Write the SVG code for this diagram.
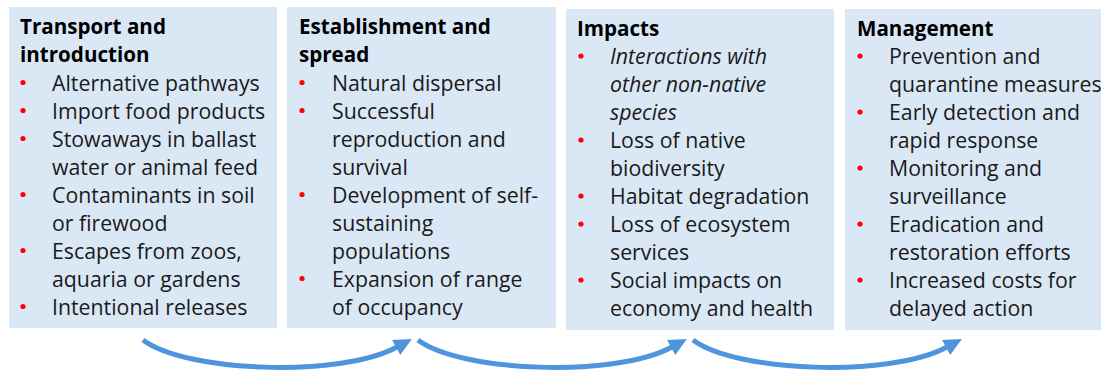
<svg xmlns="http://www.w3.org/2000/svg" width="1104" height="373" viewBox="0 0 1104 373">
<defs>
<style>
.box{fill:#DAE8F6;}
.t{font-family:"Open Sans","Liberation Sans",sans-serif;font-size:21.3px;fill:#1a1a1a;}
.h{font-weight:bold;fill:#000;font-size:20.6px;}
.i{font-style:italic;}
.dot{fill:#FF0000;}
.arr{fill:none;stroke:#4F95DB;stroke-width:5;marker-end:url(#ah);}
</style>
<marker id="ah" markerUnits="userSpaceOnUse" markerWidth="20" markerHeight="18" viewBox="0 0 20 18" refX="1" refY="8.5" orient="auto">
<path d="M0,0 L18,8.5 L0,17 z" fill="#4F95DB"/>
</marker>
</defs>
<rect width="1104" height="373" fill="#FFFFFF"/>
<g id="node-transport">
<rect class="box" x="9" y="7" width="268" height="321"/>
<text class="t h" x="20" y="34.3">Transport and</text>
<text class="t h" x="20" y="62.3">introduction</text>
<circle class="dot" cx="23" cy="82.5" r="2.6"/><text class="t" x="52" y="90.5">Alternative pathways</text>
<circle class="dot" cx="23" cy="110.5" r="2.6"/><text class="t" x="52" y="118.5">Import food products</text>
<circle class="dot" cx="23" cy="138.5" r="2.6"/><text class="t" x="52" y="146.5">Stowaways in ballast</text>
<text class="t" x="52" y="174.5">water or animal feed</text>
<circle class="dot" cx="23" cy="194.5" r="2.6"/><text class="t" x="52" y="202.5">Contaminants in soil</text>
<text class="t" x="52" y="230.5">or firewood</text>
<circle class="dot" cx="23" cy="250.5" r="2.6"/><text class="t" x="52" y="258.5">Escapes from zoos,</text>
<text class="t" x="52" y="286.5">aquaria or gardens</text>
<circle class="dot" cx="23" cy="306.5" r="2.6"/><text class="t" x="52" y="314.5">Intentional releases</text>
</g>
<g id="node-establishment">
<rect class="box" x="287" y="7" width="269" height="321"/>
<text class="t h" x="299" y="34.3">Establishment and</text>
<text class="t h" x="299" y="62.3">spread</text>
<circle class="dot" cx="302" cy="82.5" r="2.6"/><text class="t" x="332" y="90.5">Natural dispersal</text>
<circle class="dot" cx="302" cy="110.5" r="2.6"/><text class="t" x="332" y="118.5">Successful</text>
<text class="t" x="332" y="146.5">reproduction and</text>
<text class="t" x="332" y="174.5">survival</text>
<circle class="dot" cx="302" cy="194.5" r="2.6"/><text class="t" x="332" y="202.5">Development of self-</text>
<text class="t" x="332" y="230.5">sustaining</text>
<text class="t" x="332" y="258.5">populations</text>
<circle class="dot" cx="302" cy="278.5" r="2.6"/><text class="t" x="332" y="286.5">Expansion of range</text>
<text class="t" x="332" y="314.5">of occupancy</text>
</g>
<g id="node-impacts">
<rect class="box" x="566" y="9" width="268" height="321"/>
<text class="t h" x="577" y="35.7">Impacts</text>
<circle class="dot" cx="581" cy="56" r="2.6"/><text class="t i" x="610" y="64">Interactions with</text>
<text class="t i" x="610" y="92">other non-native</text>
<text class="t i" x="610" y="120">species</text>
<circle class="dot" cx="581" cy="140" r="2.6"/><text class="t" x="610" y="148">Loss of native</text>
<text class="t" x="610" y="176">biodiversity</text>
<circle class="dot" cx="581" cy="196" r="2.6"/><text class="t" x="610" y="204">Habitat degradation</text>
<circle class="dot" cx="581" cy="224" r="2.6"/><text class="t" x="610" y="232">Loss of ecosystem</text>
<text class="t" x="610" y="260">services</text>
<circle class="dot" cx="581" cy="280" r="2.6"/><text class="t" x="610" y="288">Social impacts on</text>
<text class="t" x="610" y="316">economy and health</text>
</g>
<g id="node-management">
<rect class="box" x="845" y="9" width="256" height="321"/>
<text class="t h" x="857" y="35.7">Management</text>
<circle class="dot" cx="860" cy="56" r="2.6"/><text class="t" x="889" y="64">Prevention and</text>
<text class="t" x="889" y="92">quarantine measures</text>
<circle class="dot" cx="860" cy="112" r="2.6"/><text class="t" x="889" y="120">Early detection and</text>
<text class="t" x="889" y="148">rapid response</text>
<circle class="dot" cx="860" cy="168" r="2.6"/><text class="t" x="889" y="176">Monitoring and</text>
<text class="t" x="889" y="204">surveillance</text>
<circle class="dot" cx="860" cy="224" r="2.6"/><text class="t" x="889" y="232">Eradication and</text>
<text class="t" x="889" y="260">restoration efforts</text>
<circle class="dot" cx="860" cy="280" r="2.6"/><text class="t" x="889" y="288">Increased costs for</text>
<text class="t" x="889" y="316">delayed action</text>
</g>
<g id="connectors">
<path class="arr" d="M143,340 C185,372 340,378 397,347"/>
<path class="arr" d="M418,340 C460,372 615,378 672,347"/>
<path class="arr" d="M693,340 C735,372 890,378 947,347"/>
</g>
</svg>
